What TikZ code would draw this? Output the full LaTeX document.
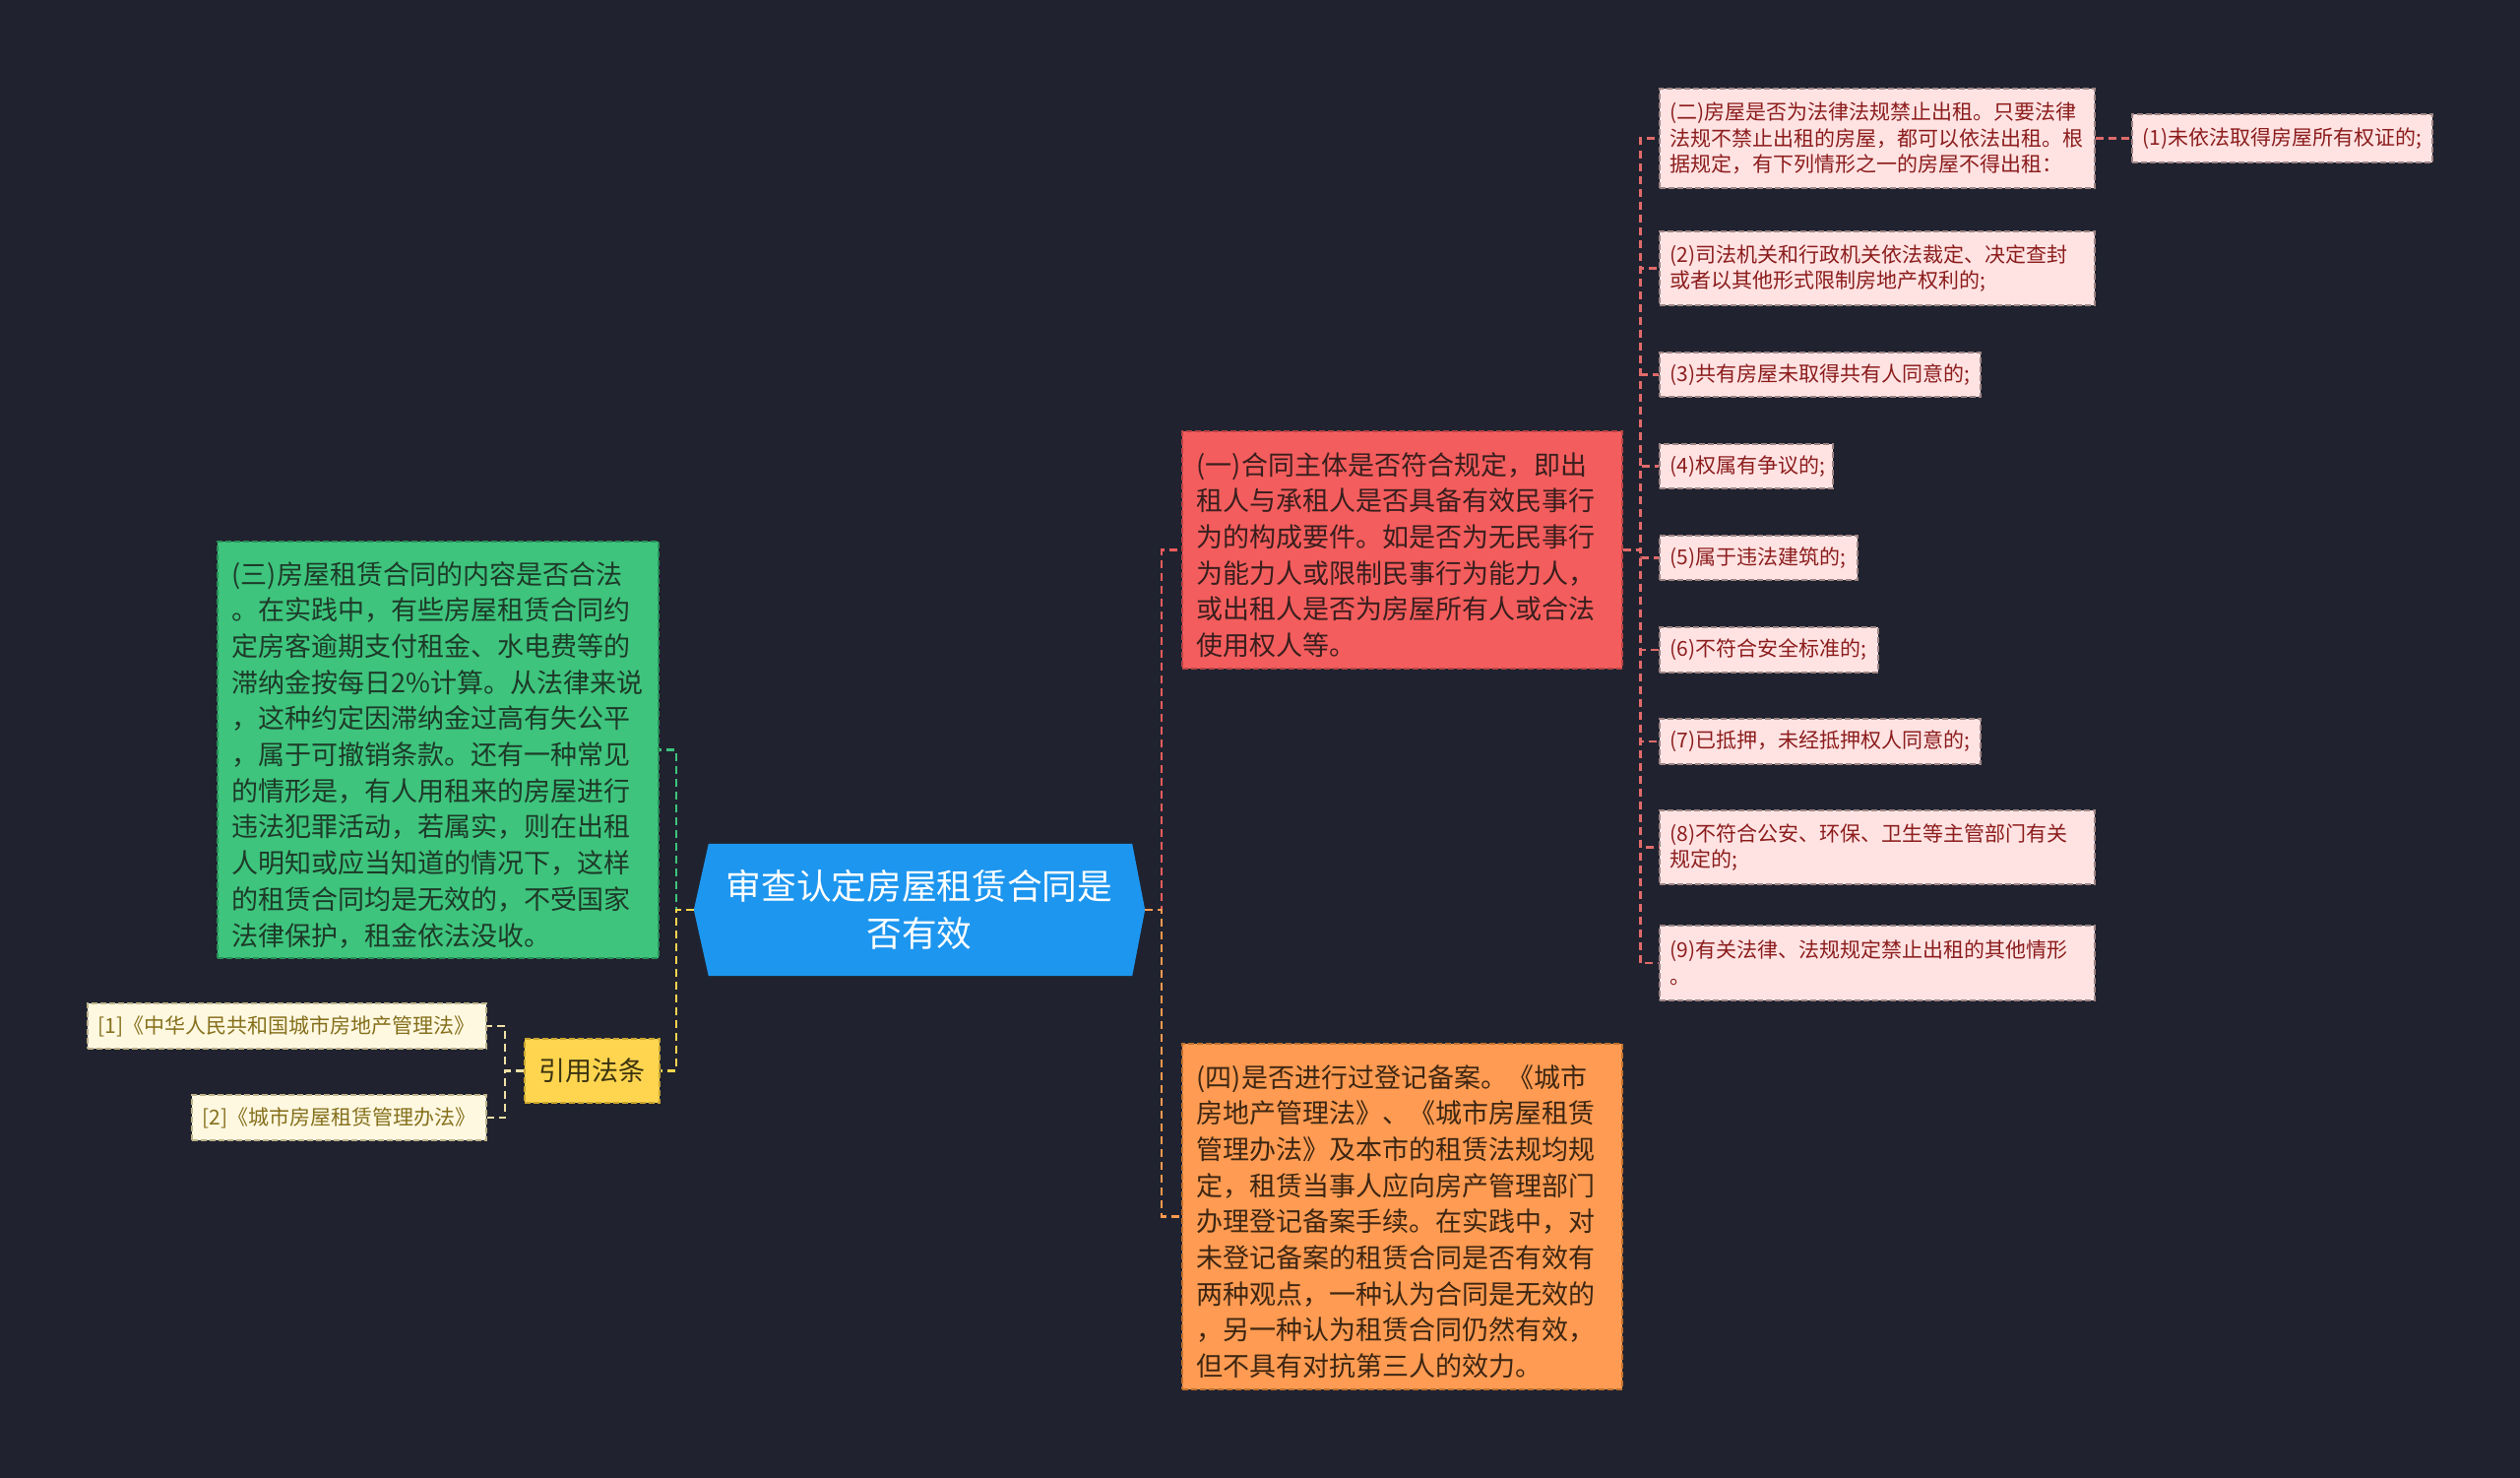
\documentclass[tikz,border=0pt]{standalone}
\usepackage{fontspec}
\setmainfont{Noto Sans CJK SC}
\usetikzlibrary{backgrounds}
\definecolor{bg}{HTML}{20232F}
\definecolor{rootblue}{HTML}{1D96EF}
\definecolor{redfill}{HTML}{F45D5D}
\definecolor{redtext}{HTML}{3A1E1E}
\definecolor{redline}{HTML}{B94444}
\definecolor{greenfill}{HTML}{3EC47D}
\definecolor{greentext}{HTML}{1D3A28}
\definecolor{greenline}{HTML}{2A8F58}
\definecolor{orangefill}{HTML}{FF9B52}
\definecolor{orangetext}{HTML}{3D2612}
\definecolor{orangeline}{HTML}{C0702F}
\definecolor{yellowfill}{HTML}{FFD54F}
\definecolor{yellowtext}{HTML}{3B3310}
\definecolor{yellowline}{HTML}{C9A431}
\definecolor{pinkfill}{HTML}{FFE3E3}
\definecolor{pinktext}{HTML}{8C1D1D}
\definecolor{pinkline}{HTML}{9E8585}
\definecolor{reffill}{HTML}{FFF8E1}
\definecolor{reftext}{HTML}{85701C}
\definecolor{refline}{HTML}{BDB28A}
\definecolor{cred}{HTML}{F25C5C}
\definecolor{corange}{HTML}{FF9A50}
\definecolor{cgreen}{HTML}{3EC47D}
\definecolor{cyellow}{HTML}{FFD54F}
\definecolor{cref}{HTML}{EFE0A6}
\definecolor{cpink}{HTML}{E06A6A}
\begin{document}
\begin{tikzpicture}[x=1pt,y=-1pt,
  box/.style={rectangle, anchor=west, inner xsep=11pt, inner ysep=3pt, align=left,
    line width=1.5pt, dash pattern=on 6pt off 3pt},
  big/.style={box, inner xsep=15pt, font=\fontsize{27}{36.7}\selectfont,
    execute at begin node={\rule{0pt}{33pt}}},
  leaf/.style={box, fill=pinkfill, draw=pinkline, text=pinktext, font=\fontsize{21}{26.7}\selectfont},
  ref/.style={box, fill=reffill, draw=refline, text=reftext, font=\fontsize{21}{26.7}\selectfont},
  conn/.style={line width=2.5pt, dash pattern=on 8pt off 5pt}]
\begin{pgfonlayer}{background}
  \fill[bg] (0,0) rectangle (2560,1501);
\end{pgfonlayer}

% root
\node[minimum width=458pt, minimum height=134pt, inner sep=0pt, text=white, align=center,
  font=\fontsize{35.7}{48}\selectfont] (root) at (934,924) {审查认定房屋租赁合同是\\否有效};
\begin{pgfonlayer}{background}
  \fill[rootblue] (root.west) -- ([xshift=15pt]root.north west) -- ([xshift=-13pt]root.north east)
    -- (root.east) -- ([xshift=-13pt]root.south east) -- ([xshift=15pt]root.south west) -- cycle;
\end{pgfonlayer}

% main branches
\node[big, fill=redfill, draw=redline, text=redtext, text width=417pt, minimum height=241pt] (n1) at (1200,558.5)
{(一)合同主体是否符合规定，即出\\租人与承租人是否具备有效民事行\\为的构成要件。如是否为无民事行\\为能力人或限制民事行为能力人，\\或出租人是否为房屋所有人或合法\\使用权人等。};

\node[big, fill=orangefill, draw=orangeline, text=orangetext, text width=417pt, minimum height=351pt] (n4) at (1200,1235.5)
{(四)是否进行过登记备案。《城市\\房地产管理法》、《城市房屋租赁\\管理办法》及本市的租赁法规均规\\定，租赁当事人应向房产管理部门\\办理登记备案手续。在实践中，对\\未登记备案的租赁合同是否有效有\\两种观点，一种认为合同是无效的\\，另一种认为租赁合同仍然有效，\\但不具有对抗第三人的效力。};

\node[big, fill=greenfill, draw=greenline, text=greentext, text width=418pt, minimum height=423pt] (n3) at (220,761.5)
{(三)房屋租赁合同的内容是否合法\\。在实践中，有些房屋租赁合同约\\定房客逾期支付租金、水电费等的\\滞纳金按每日2\%计算。从法律来说\\，这种约定因滞纳金过高有失公平\\，属于可撤销条款。还有一种常见\\的情形是，有人用租来的房屋进行\\违法犯罪活动，若属实，则在出租\\人明知或应当知道的情况下，这样\\的租赁合同均是无效的，不受国家\\法律保护，租金依法没收。};

\node[box, fill=yellowfill, draw=yellowline, text=yellowtext, align=center, inner xsep=0pt,
  minimum width=137pt, minimum height=65pt, font=\fontsize{27}{32}\selectfont] (cite) at (532,1087.5) {引用法条};

% references
\node[ref, text width=383pt, minimum height=46pt] (r1) at (88,1042) {[1]《中华人民共和国城市房地产管理法》};
\node[ref, text width=277pt, minimum height=46pt] (r2) at (194,1135) {[2]《城市房屋租赁管理办法》};

% leaves of (一)
\node[leaf, text width=420pt, minimum height=101pt] (p2) at (1685,140.5)
{(二)房屋是否为法律法规禁止出租。只要法律\\法规不禁止出租的房屋，都可以依法出租。根\\据规定，有下列情形之一的房屋不得出租：};
\node[leaf, text width=283pt, minimum height=49pt] (p1) at (2165,140.5) {(1)未依法取得房屋所有权证的;};
\node[leaf, text width=420pt, minimum height=75pt] (c2) at (1685,272.5)
{(2)司法机关和行政机关依法裁定、决定查封\\或者以其他形式限制房地产权利的;};
\node[leaf, text width=304pt, minimum height=45pt] (c3) at (1685,380.5) {(3)共有房屋未取得共有人同意的;};
\node[leaf, text width=154pt, minimum height=45pt] (c4) at (1685,473.5) {(4)权属有争议的;};
\node[leaf, text width=179pt, minimum height=45pt] (c5) at (1685,566.5) {(5)属于违法建筑的;};
\node[leaf, text width=200pt, minimum height=46pt] (c6) at (1685,660) {(6)不符合安全标准的;};
\node[leaf, text width=304pt, minimum height=46pt] (c7) at (1685,753) {(7)已抵押，未经抵押权人同意的;};
\node[leaf, text width=420pt, minimum height=75pt] (c8) at (1685,860.5)
{(8)不符合公安、环保、卫生等主管部门有关\\规定的;};
\node[leaf, text width=420pt, minimum height=76pt] (c9) at (1685,978)
{(9)有关法律、法规规定禁止出租的其他情形\\。};

% connectors
\draw[conn, draw=cred] (root.east) -- ++(17,0) |- (n1.west);
\draw[conn, draw=corange] (root.east) -- ++(17,0) |- (n4.west);
\draw[conn, draw=cgreen] (root.west) -- ++(-18,0) |- (n3.east);
\draw[conn, draw=cyellow] (root.west) -- ++(-18,0) |- (cite.east);
\draw[conn, draw=cref] (cite.west) -- ++(-19,0) |- (r1.east);
\draw[conn, draw=cref] (cite.west) -- ++(-19,0) |- (r2.east);
\foreach \c in {p2,c2,c3,c4,c5,c6,c7,c8,c9}
  \draw[conn, draw=cpink] (n1.east) -- ++(18,0) |- (\c.west);
\draw[conn, draw=cpink] (p2.east) -- (p1.west);
\end{tikzpicture}
\end{document}
